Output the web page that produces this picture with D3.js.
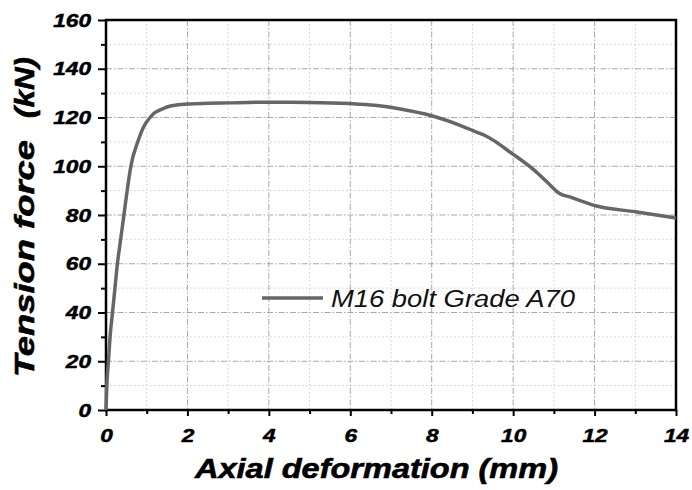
<!DOCTYPE html>
<html>
<head>
<meta charset="utf-8">
<script src="https://cdn.jsdelivr.net/npm/d3@7"></script>
<style>
  body { margin: 0; background: #fff; }
  text { font-family: "Liberation Sans", Arial, sans-serif; }
  .tick text { font-size: 19px; font-weight: bold; font-style: italic; stroke: #000; stroke-width: 0.5px; }
</style>
</head>
<body>
<div id="chart"></div>
<script>
// deformation (mm) and tension force (kN)
var deformation = [0, 0.02, 0.06, 0.10, 0.16, 0.22, 0.28, 0.36, 0.44, 0.52, 0.61, 0.78, 0.92, 1.08, 1.20, 1.33, 1.50, 1.65, 2.0, 2.5, 3.0, 4.0, 5.0, 6.0, 6.6, 7.23, 8.0, 8.71, 9.12, 9.32, 10.0, 10.51, 10.84, 11.13, 11.41, 12.0, 13.0, 14.0];
var force       = [0, 10, 20, 30, 40, 50, 60, 70, 80, 90, 100, 110, 116, 120, 122, 123.1, 124.3, 124.9, 125.5, 125.8, 126, 126.3, 126.2, 125.7, 125, 123.5, 120.7, 116.7, 113.9, 112.5, 104.9, 98.5, 93.4, 88.9, 87.3, 83.9, 81.3, 78.8];
var xTicks = [0, 2, 4, 6, 8, 10, 12, 14];
var yTicks = [0, 20, 40, 60, 80, 100, 120, 140, 160];
var seriesName = "M16 bolt Grade A70";

(function(d3) {
  'use strict';
  var width = 692, height = 490;
  var m = { left: 106, right: 16, top: 20, bottom: 80 };
  var w = width - m.left - m.right, h = height - m.top - m.bottom;

  var svg = d3.select('#chart').append('svg')
    .attr('width', width).attr('height', height);
  var g = svg.append('g').attr('transform', 'translate(' + m.left + ',' + m.top + ')');

  var x = d3.scaleLinear().domain([0, 14]).range([0, w]);
  var y = d3.scaleLinear().domain([0, 160]).range([h, 0]);

  var xMinorVals = d3.range(1, 14, 2);
  var yMinorVals = d3.range(10, 160, 20);

  // minor grid (dotted)
  g.selectAll('line.xminor').data(xMinorVals).enter().append('line')
    .attr('x1', x).attr('x2', x).attr('y1', 0).attr('y2', h)
    .attr('stroke', '#cfcfcf').attr('stroke-width', 1).attr('stroke-dasharray', '1.5,2.5');
  g.selectAll('line.yminor').data(yMinorVals).enter().append('line')
    .attr('y1', y).attr('y2', y).attr('x1', 0).attr('x2', w)
    .attr('stroke', '#cfcfcf').attr('stroke-width', 1).attr('stroke-dasharray', '1.5,2.5');
  // major grid (dash-dot)
  g.selectAll('line.xmajor').data(xTicks.slice(1, -1)).enter().append('line')
    .attr('x1', x).attr('x2', x).attr('y1', 0).attr('y2', h)
    .attr('stroke', '#a8a8a8').attr('stroke-width', 1).attr('stroke-dasharray', '6,2,1.5,2');
  g.selectAll('line.ymajor').data(yTicks.slice(1, -1)).enter().append('line')
    .attr('y1', y).attr('y2', y).attr('x1', 0).attr('x2', w)
    .attr('stroke', '#a8a8a8').attr('stroke-width', 1).attr('stroke-dasharray', '6,2,1.5,2');

  // axes
  var xAxis = d3.axisBottom(x).tickValues(xTicks).tickSize(6).tickPadding(13);
  var xMinor = d3.axisBottom(x).tickValues(xMinorVals).tickSize(4).tickFormat('');
  var yAxis = d3.axisLeft(y).tickValues(yTicks).tickSize(8).tickPadding(7);
  var yMinor = d3.axisLeft(y).tickValues(yMinorVals).tickSize(5).tickFormat('');

  function style(sel) {
    sel.select('.domain').remove();
    sel.selectAll('line').attr('stroke', '#000').attr('stroke-width', 2);
    sel.selectAll('text').attr('fill', '#000')
      .attr('textLength', function(d) { return String(d).length * 12.6; })
      .attr('lengthAdjust', 'spacingAndGlyphs');
  }
  g.append('g').attr('transform', 'translate(0,' + h + ')').call(xAxis).call(style);
  g.append('g').attr('transform', 'translate(0,' + h + ')').call(xMinor).call(style);
  g.append('g').call(yAxis).call(style);
  g.append('g').call(yMinor).call(style);

  // frame
  g.append('rect').attr('width', w).attr('height', h)
    .attr('fill', 'none').attr('stroke', '#000').attr('stroke-width', 2.5);

  // curve
  var pts = deformation.map(function(d, i) { return [d, force[i]]; });
  var line = d3.line().x(function(d) { return x(d[0]); }).y(function(d) { return y(d[1]); })
    .curve(d3.curveMonotoneX);
  g.append('path').datum(pts).attr('d', line)
    .attr('fill', 'none').attr('stroke', '#666').attr('stroke-width', 3.5)
    .attr('stroke-linejoin', 'round');

  // legend
  var lg = g.append('g').attr('transform', 'translate(' + (262 - m.left) + ',' + (298 - m.top) + ')');
  lg.append('line').attr('x1', 0).attr('x2', 61).attr('stroke', '#666').attr('stroke-width', 3.5);
  lg.append('text').attr('x', 69).attr('y', 8.7).text(seriesName)
    .attr('textLength', 244).attr('lengthAdjust', 'spacingAndGlyphs')
    .style('font-size', '23px').style('font-style', 'italic').attr('fill', '#111');

  // axis titles
  function title(sel) {
    sel.style('font-size', '28px').style('font-weight', 'bold').style('font-style', 'italic')
      .attr('lengthAdjust', 'spacingAndGlyphs').attr('fill', '#000')
      .attr('stroke', '#000').attr('stroke-width', 0.6);
  }
  svg.append('text').attr('x', 195).attr('y', 478)
    .attr('textLength', 363).text('Axial deformation (mm)').call(title);
  svg.append('text').attr('transform', 'translate(34,377) rotate(-90)')
    .attr('textLength', 237).text('Tension force').call(title);
  svg.append('text').attr('transform', 'translate(34,118) rotate(-90)')
    .attr('textLength', 61).text('(kN)').call(title);
})(window.d3);
</script>
</body>
</html>
